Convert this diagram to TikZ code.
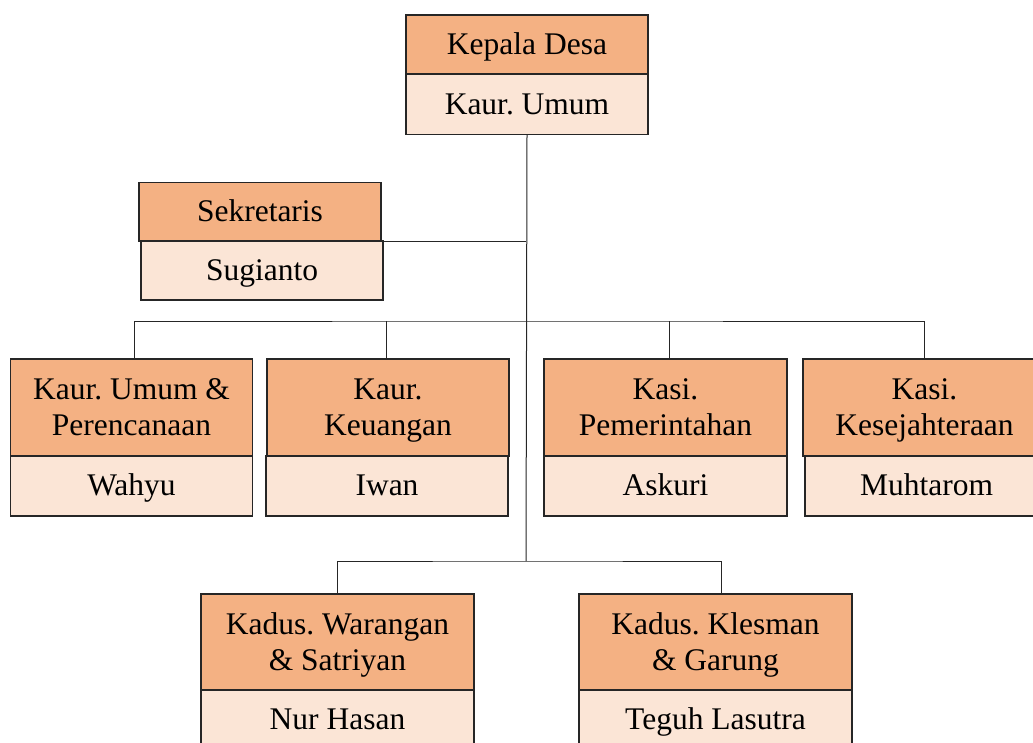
\documentclass[tikz,border=0pt]{standalone}
\usepackage{fontspec}
\setmainfont{Liberation Serif}
\frenchspacing
\definecolor{headfill}{HTML}{F4B183}
\definecolor{namefill}{HTML}{FBE5D6}
\definecolor{linecol}{HTML}{262626}
\newcommand\tallstrut{\rule{0pt}{31pt}}
\newcommand\onestrut{\rule[-8.5pt]{0pt}{36pt}}
\begin{document}
\begin{tikzpicture}[x=1pt,y=-1pt,
  every node/.style={font=\fontsize{31.5}{36}\selectfont, align=center, inner sep=0pt, outer sep=0pt},
  headbox/.style={draw=linecol, line width=1.2pt, fill=headfill, minimum width=#1, minimum height=59pt},
  headbox/.default=242pt,
  headtwo/.style={draw=linecol, line width=1.2pt, fill=headfill, minimum width=#1, minimum height=97pt},
  headtwo/.default=242pt,
  namebox/.style={draw=linecol, line width=1.2pt, fill=namefill, minimum width=#1, minimum height=60pt},
  namebox/.default=242pt,
  link/.style={draw=linecol, line width=1pt}]
\useasboundingbox (0,0) rectangle (1033,742);
\clip (0,0) rectangle (1033,742);
% top
\node[headbox] (kd) at (527,44.5) {\onestrut Kepala Desa};
\node[namebox] (ku) at (527,104.5) {\onestrut Kaur. Umum};
% secretary
\node[headbox] (sek) at (260,212) {\onestrut Sekretaris};
\node[namebox, minimum height=59pt] (sug) at (262,270.5) {\onestrut Sugianto};
% row 2
\node[headtwo] (r1) at (131.5,407.5) {\tallstrut Kaur. Umum \&\\Perencanaan\strut};
\node[namebox] (r1n) at (131.5,486) {\onestrut Wahyu};
\node[headtwo] (r2) at (388,407.5) {\tallstrut Kaur.\\Keuangan\strut};
\node[namebox] (r2n) at (387,486) {\onestrut Iwan};
\node[headtwo=243pt] (r3) at (665.5,407.5) {\tallstrut Kasi.\\Pemerintahan\strut};
\node[namebox=243pt] (r3n) at (665.5,486) {\onestrut Askuri};
\node[headtwo=243pt] (r4) at (924.5,407.5) {\tallstrut Kasi.\\Kesejahteraan\strut};
\node[namebox=243pt] (r4n) at (926.5,486) {\onestrut Muhtarom};
% row 3
\node[headtwo=273pt, minimum height=96pt] (k1) at (337.5,642) {\tallstrut Kadus. Warangan\\\& Satriyan\strut};
\node[namebox=273pt] (k1n) at (337.5,720) {\onestrut Nur Hasan};
\node[headtwo=273pt, minimum height=96pt] (k2) at (715.5,642) {\tallstrut Kadus. Klesman\\\& Garung\strut};
\node[namebox=273pt] (k2n) at (715.5,720) {\onestrut Teguh Lasutra};
% junctions
\coordinate (j1) at (526,321);
\coordinate (j2) at (526,561);
\coordinate (d1) at ([xshift=2.5pt]r1.north);
\coordinate (d2) at ([xshift=-2pt]r2.north);
\coordinate (d3) at ([xshift=3.5pt]r3.north);
\coordinate (d4) at ([xshift=-0.5pt]r4.north);
\coordinate (e2) at ([xshift=5.5pt]k2.north);
% connectors
\draw[link] (ku.south) -- (j2);
\draw[link] (sek.south east) -- (sek.south east -| j1);
\draw[link] (d1) |- (j1) -| (d4);
\draw[link] (d2) -- (d2 |- j1);
\draw[link] (d3) -- (d3 |- j1);
\draw[link] (k1.north) |- (j2) -| (e2);
\end{tikzpicture}
\end{document}
